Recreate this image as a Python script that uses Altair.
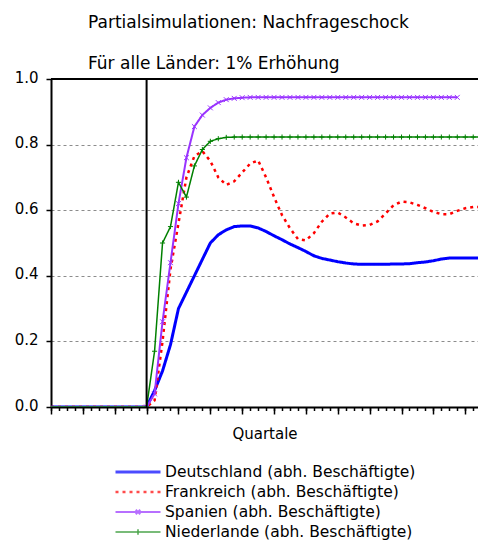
import altair as alt
import pandas as pd

# ---------------- data ----------------
quartale_vor = [-12, -11, -10, -9, -8, -7, -6, -5, -4, -3, -2, -1]
werte_vor = [0.0, 0.0, 0.0, 0.0, 0.0, 0.0, 0.0, 0.0, 0.0, 0.0, 0.0, 0.0]

quartale_nach = list(range(0, 43))

laender = [
    "Deutschland (abh. Beschäftigte)",
    "Frankreich (abh. Beschäftigte)",
    "Spanien (abh. Beschäftigte)",
    "Niederlande (abh. Beschäftigte)",
]
kurz = ["DE", "FR", "ES", "NL"]
farben = ["#0000FF", "#FF0000", "#9933FF", "#008000"]

deutschland = [0.0, 0.05, 0.11, 0.19, 0.30, 0.35, 0.40, 0.45, 0.50, 0.525,
               0.54, 0.55, 0.552, 0.552, 0.546, 0.535, 0.522, 0.510, 0.497, 0.486,
               0.474, 0.461, 0.453, 0.448, 0.443, 0.439, 0.436, 0.435, 0.435, 0.435,
               0.435, 0.436, 0.436, 0.437, 0.440, 0.442, 0.446, 0.451, 0.454, 0.454,
               0.454, 0.454, 0.454]
frankreich = [0.0, 0.02, 0.20, 0.42, 0.56, 0.70, 0.765, 0.78, 0.75, 0.70,
              0.677, 0.688, 0.715, 0.742, 0.752, 0.70, 0.64, 0.585, 0.545, 0.512,
              0.508, 0.53, 0.565, 0.59, 0.593, 0.578, 0.56, 0.553, 0.555, 0.566,
              0.59, 0.615, 0.626, 0.624, 0.616, 0.606, 0.595, 0.588, 0.588, 0.598,
              0.606, 0.61, 0.61]
spanien = [0.0, 0.04, 0.26, 0.44, 0.62, 0.76, 0.855, 0.89, 0.912, 0.928,
           0.937, 0.941, 0.943, 0.944, 0.944, 0.944, 0.944, 0.944, 0.944, 0.944,
           0.944, 0.944, 0.944, 0.944, 0.944, 0.944, 0.944, 0.944, 0.944, 0.944,
           0.944, 0.944, 0.944, 0.944, 0.944, 0.944, 0.944, 0.944, 0.944, 0.944]
niederlande = [0.0, 0.17, 0.50, 0.55, 0.685, 0.64, 0.735, 0.785, 0.81, 0.818,
               0.822, 0.823, 0.823, 0.823, 0.823, 0.823, 0.823, 0.823, 0.823, 0.823,
               0.823, 0.823, 0.823, 0.823, 0.823, 0.823, 0.823, 0.823, 0.823, 0.823,
               0.823, 0.823, 0.823, 0.823, 0.823, 0.823, 0.823, 0.823, 0.823, 0.823,
               0.823, 0.823, 0.823]

y_ticks = [0.0, 0.2, 0.4, 0.6, 0.8, 1.0]
x_major_ticks = [-12, -8, -4, 0, 4, 8, 12, 16, 20, 24, 28, 32, 36, 40]
x_minor_ticks = list(range(-12, 42))

serien = [deutschland, frankreich, spanien, niederlande]
rows = []
for name, k, werte in zip(laender, kurz, serien):
    for t, v in zip(quartale_vor, werte_vor):
        rows.append({"t": t, "v": v, "land": name, "k": k})
    for t, v in zip(quartale_nach, werte):
        rows.append({"t": t, "v": v, "land": name, "k": k})
df = pd.DataFrame(rows)

FONT = "DejaVu Sans"
x_scale = alt.Scale(domain=[-12, 41.6], nice=False, zero=False)

# ---------------- encodings ----------------
x_axis_major = alt.Axis(
    values=x_major_ticks, labels=False, grid=False, orient="bottom",
    tickSize=7, tickColor="black", tickWidth=1.5, domainColor="black", domainWidth=2,
    title="Quartale", titleFont=FONT, titleFontSize=15, titleFontWeight="normal",
    titleColor="black", titlePadding=12,
)
x_enc = alt.X("t:Q", scale=x_scale, axis=x_axis_major)
x_minor_enc = alt.X(
    "t:Q",
    scale=x_scale,
    axis=alt.Axis(
        values=x_minor_ticks, labels=False, grid=False, orient="bottom",
        tickSize=3.5, tickColor="black", tickWidth=1.5, domain=False, title=None,
    ),
)
y_enc = alt.Y(
    "v:Q",
    scale=alt.Scale(domain=[0, 1], nice=False),
    axis=alt.Axis(
        values=y_ticks, format=".1f", tickSize=5, tickColor="black", tickWidth=1.5,
        domainColor="black", domainWidth=2, grid=True, gridColor="#8c8c8c",
        gridDash=[3, 3], gridWidth=1, labelFont=FONT, labelFontSize=15,
        labelColor="black", labelPadding=8, labelOffset=-2, title=None,
    ),
)

legend_kw = dict(
    title=None, orient="none", legendX=63, legendY=385, padding=0,
    symbolSize=2025, clipHeight=16, rowPadding=3, labelOffset=3,
    labelFont=FONT, labelFontSize=15.5, labelColor="black", labelLimit=400,
)

color_enc = alt.Color("land:N", scale=alt.Scale(domain=laender, range=farben),
                      legend=alt.Legend(**legend_kw))
dash_enc = alt.StrokeDash("land:N",
                          scale=alt.Scale(domain=laender, range=[[1, 0], [3, 4], [1, 0], [1, 0]]),
                          legend=alt.Legend(**legend_kw))
width_enc = alt.StrokeWidth("land:N", scale=alt.Scale(domain=laender, range=[3, 1.5, 1.5, 1.5]),
                            legend=alt.Legend(**legend_kw))
legend_shapes = [
    "M-1,0L1,0",
    "M-1,0L1,0",
    "M-1,0L1,0M-0.1,-0.1L0.1,0.1M-0.1,0.1L0.1,-0.1",
    "M-1,0L1,0M0,-0.12L0,0.12",
]
shape_enc = alt.Shape("land:N", scale=alt.Scale(domain=laender, range=legend_shapes),
                      legend=alt.Legend(**legend_kw))

base = alt.Chart(df)

lines = base.mark_line(clip=True).encode(
    x=x_enc, y=y_enc, color=color_enc, strokeDash=dash_enc, strokeWidth=width_enc
)

marker_es = base.transform_filter("datum.k === 'ES' && datum.t >= 0").mark_point(
    shape="M-1,-1L1,1M-1,1L1,-1", size=24, filled=False, color="#9933FF",
    strokeWidth=1, opacity=1, clip=True
).encode(x=x_enc, y=y_enc)

marker_nl = base.transform_filter("datum.k === 'NL' && datum.t >= 0").mark_point(
    shape="M0,-1L0,1M-1,0L1,0", size=26, filled=False, color="#008000",
    strokeWidth=1, opacity=1, clip=True
).encode(x=x_enc, y=y_enc)

legend_only = base.transform_filter("datum.v > 5").mark_point(filled=False).encode(
    x=x_enc, y=y_enc, shape=shape_enc, color=color_enc, strokeDash=dash_enc,
    strokeWidth=width_enc
)

shock = alt.Chart(pd.DataFrame({"a": [0]})).mark_rule(color="black", strokeWidth=2).encode(
    x=alt.X(datum=0, scale=x_scale, axis=x_axis_major)
)
top = alt.Chart(pd.DataFrame({"a": [0]})).mark_rule(color="black", strokeWidth=2).encode(
    y=alt.datum(1.0)
)

minor_axis = base.transform_filter("datum.v > 5").mark_point(opacity=0).encode(
    x=x_minor_enc, y=y_enc
)

inner = alt.layer(lines, marker_es, marker_nl, legend_only, shock, top)

chart = alt.layer(inner, minor_axis).resolve_axis(x="independent").properties(
    width=427,
    height=328,
    autosize=alt.AutoSizeParams(type="none"),
    padding={"left": 43, "top": 71, "right": 0, "bottom": 138},
    title=alt.TitleParams(
        text="Partialsimulationen: Nachfrageschock",
        subtitle="Für alle Länder: 1% Erhöhung",
        anchor="start", frame="group", dx=37, offset=-3,
        font=FONT, fontSize=17, fontWeight="normal", color="black",
        subtitleFont=FONT, subtitleFontSize=17, subtitleColor="black",
        subtitlePadding=24,
    ),
).configure_view(stroke=None).configure(background="white")

chart.save("out.html", embed_options={"renderer": "svg", "actions": False})
